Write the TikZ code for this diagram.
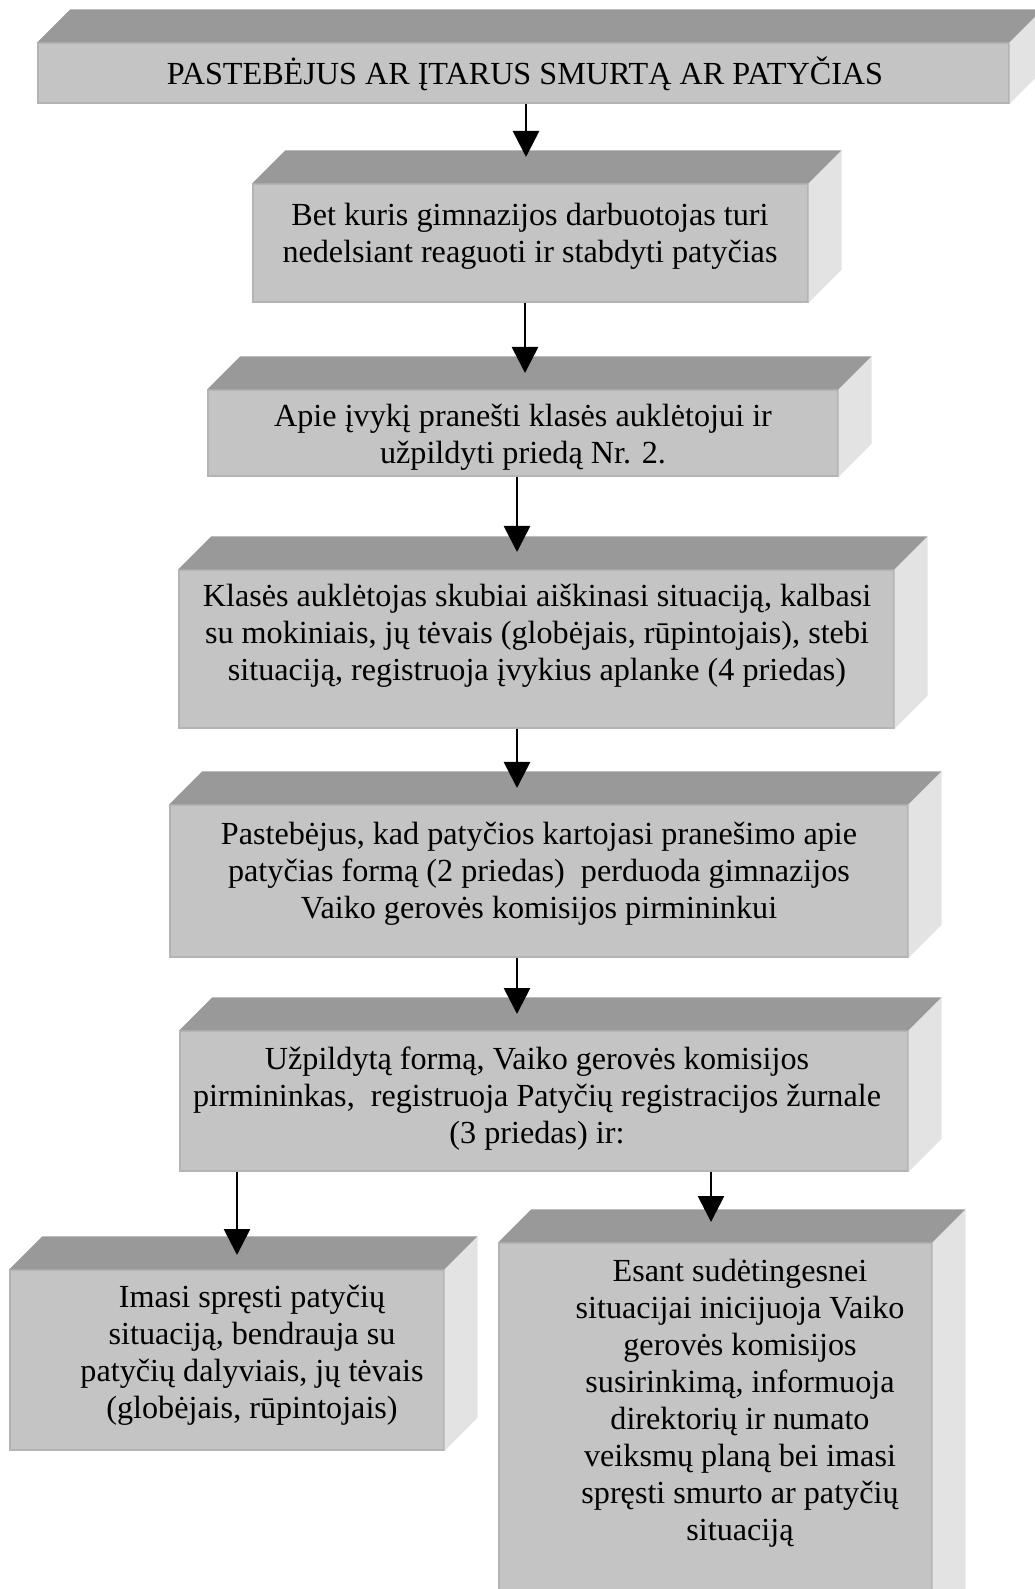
\documentclass[tikz,border=0pt]{standalone}
\usepackage{fontspec}
\setmainfont{Liberation Serif}
\usepackage{tikz}
\usetikzlibrary{arrows.meta,fit}
\definecolor{cubefront}{HTML}{C4C4C4}
\definecolor{cubetop}{HTML}{999999}
\definecolor{cuberight}{HTML}{E3E3E3}
\definecolor{cubeedge}{HTML}{B4B4B4}
\tikzset{
  frontface/.style = {rectangle, fill=cubefront, draw=cubeedge, line width=0.5pt,
    inner sep=0pt},
  topface/.style = {fill=cubetop},
  rightface/.style = {fill=cuberight},
  boxtext/.style = {align=center, inner sep=0pt,
    font=\fontsize{12}{13.8}\selectfont},% tekstas kubo priekyje
  flow/.style = {->, line width=1pt}
}
% #1 vardas, #2 ir #3 priekines sienos kampai
\newcommand{\cubebox}[3]{%
  \node[frontface, fit={#2 #3}] (#1) {};
  \fill[topface] (#1.north west) -- ++(33,-33)
    -- ([shift={(33,-33)}]#1.north east) -- (#1.north east) -- cycle;
  \fill[rightface] (#1.north east) -- ++(33,-33)
    -- ([shift={(33,-33)}]#1.south east) -- (#1.south east) -- cycle;
}
\begin{document}
\begin{tikzpicture}[x=0.373pt, y=-0.373pt,
  >={Triangle[width=9.7pt, length=9.7pt]}]
\useasboundingbox (0,0) rectangle (1035,1589);
\clip (0,0) rectangle (1035,1589);

\cubebox{b1}{(38,43)}{(1009,103)}
\cubebox{b2}{(253,184)}{(808,302)}
\cubebox{b3}{(208,390)}{(838,476)}
\cubebox{b4}{(179,570)}{(894,728)}
\cubebox{b5}{(170,805)}{(908,957)}
\cubebox{b6}{(180,1031)}{(908,1171)}
\cubebox{b7}{(10,1270)}{(444,1450)}
\cubebox{b8}{(499,1243)}{(932,1640)}

\node[boxtext] (t1) at (525,74) {PASTEBĖJUS AR ĮTARUS SMURTĄ AR PATYČIAS};
\node[boxtext] (t2) at (530,236) {Bet kuris gimnazijos darbuotojas turi\\
  nedelsiant reaguoti ir stabdyti patyčias};
\node[boxtext] (t3) at (523,437) {Apie įvykį pranešti klasės auklėtojui ir\\
  užpildyti priedą Nr. 2.};
\node[boxtext] (t4) at (537,636) {Klasės auklėtojas skubiai aiškinasi situaciją, kalbasi\\
  su mokiniais, jų tėvais (globėjais, rūpintojais), stebi\\
  situaciją, registruoja įvykius aplanke (4 priedas)};
\node[boxtext] (t5) at (539,874) {Pastebėjus, kad patyčios kartojasi pranešimo apie\\
  patyčias formą (2 priedas)~ perduoda gimnazijos\\
  Vaiko gerovės komisijos pirmininkui};
\node[boxtext] (t6) at (537,1099) {Užpildytą formą, Vaiko gerovės komisijos\\
  pirmininkas,~ registruoja Patyčių registracijos žurnale\\
  (3 priedas) ir:};
\node[boxtext] (t7) at (252,1355) {Imasi spręsti patyčių\\
  situaciją, bendrauja su\\
  patyčių dalyviais, jų tėvais\\
  (globėjais, rūpintojais)};
\node[boxtext] (t8) at (740,1403) {Esant sudėtingesnei\\
  situacijai inicijuoja Vaiko\\
  gerovės komisijos\\
  susirinkimą, informuoja\\
  direktorių ir numato\\
  veiksmų planą bei imasi\\
  spręsti smurto ar patyčių\\
  situaciją};

% rodykliu galai
\coordinate (a2) at (526,157);
\coordinate (a3) at (525,373);
\coordinate (a4) at (517,552);
\coordinate (a5) at (517,788);
\coordinate (a6) at (517,1014);
\coordinate (a7) at (237,1255);
\coordinate (a8) at (711,1222);

\draw[flow] (b1.south -| a2) -- (a2);
\draw[flow] (b2.south -| a3) -- (a3);
\draw[flow] (b3.south -| a4) -- (a4);
\draw[flow] (b4.south -| a5) -- (a5);
\draw[flow] (b5.south -| a6) -- (a6);
\draw[flow] (b6.south -| a7) -- (a7);
\draw[flow] (b6.south -| a8) -- (a8);
\end{tikzpicture}
\end{document}
